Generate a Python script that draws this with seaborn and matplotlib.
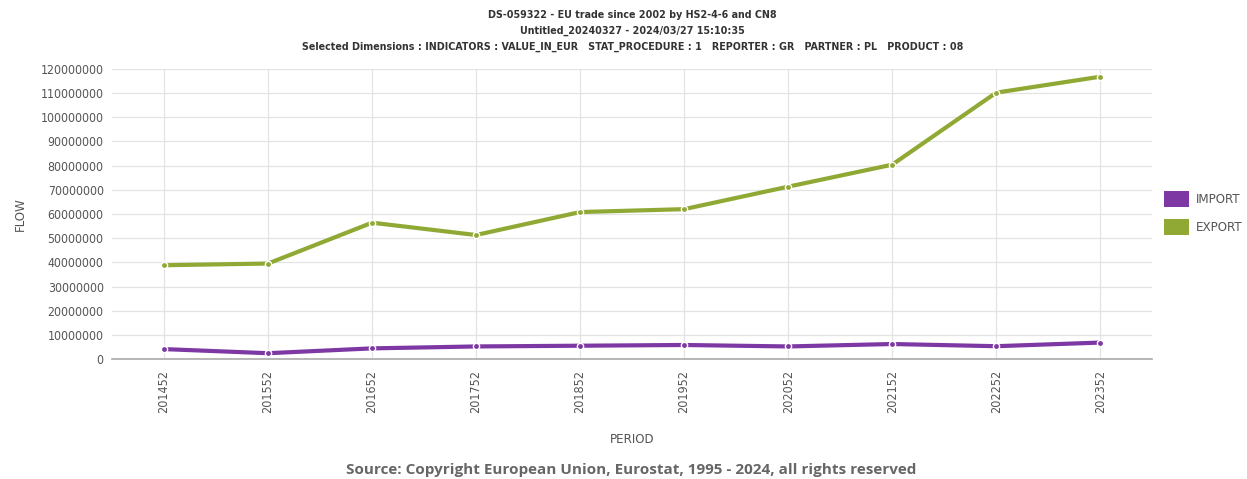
import pandas as pd
import matplotlib
matplotlib.use("Agg")
import matplotlib.pyplot as plt
import seaborn as sns
from matplotlib.patches import Patch

# ── Datos ─────────────────────────────────────────────────────────────────────
periods = ["201452", "201552", "201652", "201752", "201852",
           "201952", "202052", "202152", "202252", "202352"]
import_vals = [4.1e6, 2.4e6, 4.4e6, 5.2e6, 5.5e6, 5.8e6, 5.2e6, 6.2e6, 5.3e6, 6.8e6]
export_vals = [38.8e6, 39.5e6, 56.4e6, 51.3e6, 60.8e6, 62.0e6, 71.3e6, 80.4e6, 110.2e6, 116.8e6]
flows = ["IMPORT", "EXPORT"]
colors = {"IMPORT": "#7d38a4", "EXPORT": "#8fa934"}

df = pd.DataFrame({
    "PERIOD": periods * 2,
    "FLOW": ["IMPORT"] * len(periods) + ["EXPORT"] * len(periods),
    "VALUE": import_vals + export_vals,
})

# ── Figura ────────────────────────────────────────────────────────────────────
sns.set_style("white")
plt.rcParams["font.family"] = ["DejaVu Sans"]
plt.rcParams["font.stretch"] = "condensed"

fig = plt.figure(figsize=(12.47, 4.79), dpi=100)
ax = fig.add_axes([0.0898, 0.2505, 0.8342, 0.6055])

sns.lineplot(data=df, x="PERIOD", y="VALUE", hue="FLOW", hue_order=flows,
             palette=colors, linewidth=3, marker="o", markersize=4.5,
             markeredgecolor="white", markeredgewidth=1, ax=ax, legend=False)

ax.set_xlim(-0.5, len(periods) - 0.5)
ax.set_ylim(0, 120e6)
ax.set_yticks(range(0, 120000001, 10000000))
ax.set_yticklabels([str(v) for v in range(0, 120000001, 10000000)],
                   fontsize=8.8, color="#555555")
ax.set_xticks(range(len(periods)))
ax.set_xticklabels(periods, rotation=90, fontsize=9, color="#555555")
ax.grid(True, color="#e3e3e3", linewidth=0.9)
ax.set_axisbelow(True)
ax.tick_params(axis="y", length=4, color="#bbbbbb", pad=2)
ax.tick_params(axis="x", length=0, pad=8)
for side in ["top", "right", "left"]:
    ax.spines[side].set_visible(False)
ax.spines["bottom"].set_color("#aaaaaa")
ax.spines["bottom"].set_linewidth(1.2)

ax.set_xlabel("PERIOD", fontsize=9.5, color="#555555", labelpad=14)
ax.set_ylabel("FLOW", fontsize=9.5, color="#555555", labelpad=10)

# leyenda a la derecha
handles = [Patch(facecolor=colors[f], edgecolor="none", label=f) for f in flows]
fig.legend(handles=handles, loc="center left", bbox_to_anchor=(0.924, 0.556),
           frameon=False, fontsize=9.5, labelcolor="#555555",
           handlelength=1.9, handleheight=1.5, handletextpad=0.5, labelspacing=0.9)

# títulos
title_lines = [
    "DS-059322 - EU trade since 2002 by HS2-4-6 and CN8",
    "Untitled_20240327 - 2024/03/27 15:10:35",
    "Selected Dimensions : INDICATORS : VALUE_IN_EUR   STAT_PROCEDURE : 1   "
    "REPORTER : GR   PARTNER : PL   PRODUCT : 08",
]
for i, line in enumerate(title_lines):
    fig.text(0.507, 1 - (15 + 16 * i) / 479, line, ha="center", va="center",
             fontsize=7.7, fontweight="bold", color="#333333")

fig.text(0.506, 1 - 470 / 479, "Source: Copyright European Union, Eurostat, 1995 - 2024, all rights reserved",
         ha="center", va="center", fontsize=11, fontweight="bold", stretch="normal",
         color="#666666", family=["Open Sans", "DejaVu Sans"])

fig.savefig("out.png", dpi=100)
